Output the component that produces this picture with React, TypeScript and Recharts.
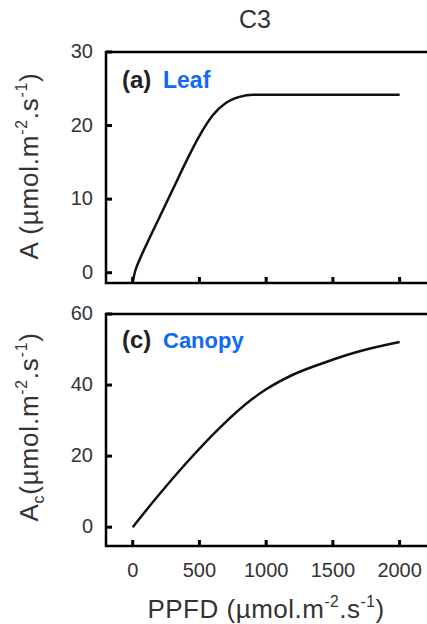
import { Line, LineChart, ReferenceArea, XAxis, YAxis } from "recharts";

// PPFD (x) in µmol.m-2.s-1
const leafPpfd = [0, 20, 50, 100, 200, 300, 400, 500, 600, 700, 800, 900, 1000, 1500, 2000];
const leafA = [-1.2, 0.3, 1.7, 3.7, 7.5, 11.3, 15.1, 18.6, 21.4, 23.1, 23.9, 24.2, 24.2, 24.2, 24.2];

const canopyPpfd = [0, 150, 400, 650, 900, 1000, 1200, 1450, 1700, 2000];
const canopyA = [0, 7.0, 18.0, 27.9, 36.2, 38.8, 42.9, 46.5, 49.5, 52.1];

const xTicks = [0, 500, 1000, 1500, 2000];
const leafTicks = [0, 10, 20, 30];
const canopyTicks = [0, 20, 40, 60];

const leafData = leafPpfd.map((x, i) => ({ x, a: leafA[i] }));
const canopyData = canopyPpfd.map((x, i) => ({ x, a: canopyA[i] }));

const FONT = "'Liberation Sans', Arial, sans-serif";
const tickText = { fill: "#333", fontSize: 20, fontFamily: FONT };
const frame = { stroke: "#000", strokeWidth: 2.5 };
const tickMark = { stroke: "#000", strokeWidth: 3 };
const X_DOMAIN: [number, number] = [-200, 2250];
const PLOT_LEFT = 106;
const TICK_LEN = 6;

function Panel({ data, yDomain, yTicks, showX, height, top, marginTop, xHeight }: {
  data: { x: number; a: number }[];
  yDomain: [number, number];
  yTicks: number[];
  showX: boolean;
  height: number;
  top: number;
  marginTop: number;
  xHeight: number;
}) {
  const bottom = height - xHeight;

  // inward tick marks, labels outside the frame
  const xTick = (p: any) => (
    <g>
      <line x1={p.payload.coordinate} x2={p.payload.coordinate} y1={bottom} y2={bottom - TICK_LEN} {...tickMark} />
      {showX && (
        <text x={p.payload.coordinate} y={bottom + 31} textAnchor="middle" {...tickText}>
          {p.payload.value}
        </text>
      )}
    </g>
  );

  const yTick = (p: any) => (
    <g>
      <line x1={PLOT_LEFT} x2={PLOT_LEFT + TICK_LEN} y1={p.payload.coordinate} y2={p.payload.coordinate} {...tickMark} />
      <text x={93} y={p.payload.coordinate + 6} textAnchor="end" {...tickText}>
        {p.payload.value}
      </text>
    </g>
  );

  return (
    <div style={{ position: "absolute", left: 0, top }}>
      <LineChart width={450} height={height} data={data} margin={{ top: marginTop, right: 17, left: 0, bottom: 0 }}>
        <XAxis
          dataKey="x"
          type="number"
          domain={X_DOMAIN}
          ticks={xTicks}
          allowDataOverflow
          height={xHeight}
          axisLine={false}
          tickLine={false}
          tick={xTick}
        />
        <YAxis
          type="number"
          domain={yDomain}
          ticks={yTicks}
          allowDataOverflow
          width={PLOT_LEFT}
          axisLine={false}
          tickLine={false}
          tick={yTick}
        />
        <ReferenceArea x1={X_DOMAIN[0]} x2={X_DOMAIN[1]} y1={yDomain[0]} y2={yDomain[1]} fill="none" {...frame} ifOverflow="visible" />
        <Line type="monotone" dataKey="a" stroke="#111" strokeWidth={2.5} dot={false} isAnimationActive={false} />
      </LineChart>
    </div>
  );
}

// unit text "(µmol.m-2.s-1)" with raised exponents
function Units({ size, lead = 0 }: { size: number; lead?: number }) {
  const up = size * 0.42;
  const small = size * 0.6;
  return (
    <>
      <tspan dy={lead}>(µmol.m</tspan>
      <tspan dy={-up} fontSize={small}>-2</tspan>
      <tspan dy={up}>.s</tspan>
      <tspan dy={-up} fontSize={small}>-1</tspan>
      <tspan dy={up}>)</tspan>
    </>
  );
}

export default function App() {
  return (
    <div style={{ position: "absolute", left: 0, top: 0, width: 427, height: 624, overflow: "hidden", background: "#fff" }}>
      <Panel data={leafData} yDomain={[-1.4, 30]} yTicks={leafTicks} showX={false} height={300} top={0} marginTop={52} xHeight={17} />
      <Panel data={canopyData} yDomain={[-5.3, 60]} yTicks={canopyTicks} showX height={334} top={290} marginTop={24} xHeight={78} />
      <svg width={427} height={624} style={{ position: "absolute", left: 0, top: 0, pointerEvents: "none" }} fontFamily={FONT}>
        <text x={255} y={28} textAnchor="middle" fontSize={25} fill="#333">C3</text>

        <text x={122} y={88} fontSize={24} fontWeight="bold" fill="#222">(a)</text>
        <text x={163} y={88} fontSize={23} fontWeight="bold" fill="#1268f3">Leaf</text>
        <text x={122} y={348} fontSize={24} fontWeight="bold" fill="#222">(c)</text>
        <text x={163} y={348} fontSize={22} fontWeight="bold" fill="#1268f3">Canopy</text>

        <text x={38} y={166} transform="rotate(-90 38 166)" textAnchor="middle" fontSize={26} letterSpacing={0.8} fill="#333">
          <tspan>A </tspan>
          <Units size={26} />
        </text>
        <text x={38} y={427} transform="rotate(-90 38 427)" textAnchor="middle" fontSize={26} letterSpacing={0.8} fill="#333">
          <tspan>A</tspan>
          <tspan dy={6} fontSize={16}>c</tspan>
          <Units size={26} lead={-6} />
        </text>
        <text x={266} y={618} textAnchor="middle" fontSize={26} letterSpacing={0.5} fill="#333">
          <tspan>PPFD </tspan>
          <Units size={26} />
        </text>
      </svg>
    </div>
  );
}
